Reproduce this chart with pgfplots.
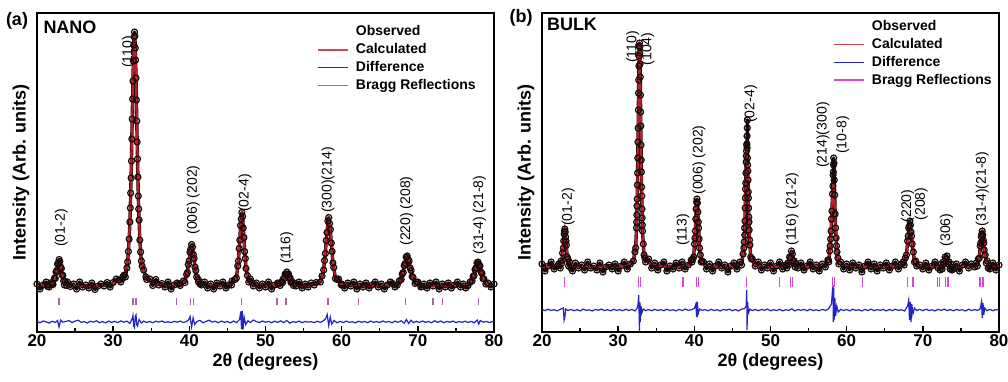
\documentclass[border=0pt]{standalone}
\usepackage{pgfplots}
\pgfplotsset{compat=1.18}
\usepackage{fontspec}
\setmainfont{Liberation Sans}
\definecolor{calcred}{RGB}{190,30,40}
\definecolor{diffblue}{RGB}{35,35,200}
\definecolor{braggA}{RGB}{165,100,170}
\definecolor{braggB}{RGB}{215,70,215}
\definecolor{obscol}{RGB}{25,10,10}
\tikzset{pk/.style={font=\fontsize{7}{8}\selectfont, rotate=90, anchor=center, inner sep=0pt}}
\pgfplotsset{
 xrd/.style={
  scale only axis, width=228.5pt, height=159.5pt,
  xmin=20, xmax=80, ymin=0, ymax=319,
  xtick={20,30,...,80}, minor xtick={25,35,...,75}, ytick=\empty,
  xtick pos=left, tick align=inside,
  major tick length=3pt, minor tick length=2pt,
  every tick/.style={black, line width=0.7pt},
  axis line style={line width=0.9pt},
  /pgf/number format/assume math mode=true,
  xticklabel style={font=\fontsize{8.5}{10}\selectfont\bfseries, inner sep=1pt},
  label style={font=\fontsize{9}{11}\selectfont\bfseries},
  xlabel={2θ (degrees)},
  ylabel={Intensity (Arb. units)},
  x label style={at={(axis description cs:0.5,-0.094)}, anchor=center},
  y label style={at={(axis description cs:-0.035,0.5)}, anchor=center},
  legend cell align=left,
  legend style={draw=none, fill=none, inner sep=0pt, outer sep=0pt, row sep=0.5pt,
    font=\fontsize{7}{8}\selectfont\bfseries,
    nodes={inner sep=0.6pt, text height=5.6pt, text depth=1.6pt},
    /tikz/every odd column/.append style={column sep=3pt}},
 },
 obs/.style={obscol, line width=1.7pt, line join=round, mark=o, mark size=1.5pt, mark options={draw=obscol, line width=0.6pt}, legend image code/.code={}},
 calc/.style={calcred, line width=1.1pt, no marks, legend image code/.code={\draw[calcred!80!white, line width=0.8pt] (0pt,0pt) -- (15pt,0pt);}},
 diff/.style={diffblue, line width=0.6pt, no marks, legend image code/.code={\draw[diffblue, line width=0.8pt] (0pt,0pt) -- (15pt,0pt);}},
}
\begin{document}
\begin{tikzpicture}
\useasboundingbox (0,0) rectangle (504pt,190.5pt);
% ---------------- (a) NANO ----------------
\begin{axis}[xrd, at={(18.5pt,24.5pt)}, anchor=south west,
  legend style={at={(axis description cs:0.613,0.967)}, anchor=north west}]
\addplot[obs] coordinates {
(20.0,48) (20.4,43) (20.8,47) (21.2,50) (21.4,45.5) (21.6,45) (21.9,49.5) (22.0,48.5) (22.1,47.5) (22.3,54) (22.4,53.5) (22.5,60) (22.6,61.5) (22.7,68) (22.8,69) (22.9,72.5) (23.0,70.5) (23.1,65) (23.2,63.5) (23.3,57) (23.4,56.5) (23.5,51) (23.6,47) (23.7,50.5) (23.9,46.5) (24.0,50) (24.4,45.5) (24.8,48) (25.2,43) (25.6,50) (26.0,45) (26.4,47) (26.8,44) (27.2,49) (27.6,42.5) (28.0,46) (28.4,48) (28.8,46) (29.2,49.5) (29.6,45) (30.0,49.5) (30.4,53) (30.8,52) (31.0,50) (31.2,53.5) (31.3,55.5) (31.45,57) (31.6,55) (31.8,64) (31.9,70) (32.0,80.5) (32.1,93) (32.2,110) (32.25,124) (32.3,139) (32.35,154) (32.4,171) (32.45,193) (32.5,213) (32.55,233) (32.6,251) (32.65,271) (32.7,287) (32.75,295) (32.8,300) (32.85,296) (32.9,284) (32.95,272) (33.0,254) (33.05,232) (33.1,211) (33.15,190) (33.2,173) (33.25,155) (33.3,136) (33.35,123) (33.4,112) (33.5,92) (33.6,80) (33.7,71) (33.8,66) (34.0,62) (34.3,55) (34.4,52.5) (34.8,53) (35.2,46.5) (35.6,52.5) (36.0,47) (36.4,48.5) (36.8,45) (37.2,50) (37.6,43) (38.0,47) (38.4,49) (38.65,48) (38.8,46.5) (39.2,51) (39.42,49.5) (39.64,57.5) (39.75,59.5) (39.86,67.5) (39.97,71) (40.08,80) (40.19,83) (40.3,87.5) (40.41,85) (40.52,77.5) (40.63,73.5) (40.74,65) (40.85,61.5) (40.96,55) (41.18,52.5) (41.2,50) (41.4,48) (41.6,47) (42.0,50) (42.4,44) (42.8,48) (43.2,43) (43.6,49) (44.0,46) (44.4,50) (44.8,44) (45.2,47) (45.55,47) (45.6,51) (46.0,52.5) (46.18,54) (46.36,66) (46.45,71) (46.54,83.5) (46.63,92) (46.72,106.5) (46.81,113) (46.9,119.5) (46.99,115.5) (47.08,104) (47.17,94.5) (47.26,80.5) (47.35,73.5) (47.44,63.5) (47.62,56.5) (47.8,50) (48.0,53) (48.25,49.5) (48.4,46) (48.8,49) (49.2,44) (49.6,48) (50.0,45) (50.4,50) (50.8,43) (51.2,47) (51.6,49) (51.7,48) (51.92,46.5) (52.14,50.5) (52.25,49.5) (52.36,53.5) (52.47,53.5) (52.58,58) (52.69,57.5) (52.8,60) (52.91,57.5) (53.02,58) (53.13,53.5) (53.24,54) (53.35,49.5) (53.46,50.5) (53.68,46.5) (53.9,48.5) (54.0,46) (54.4,50) (54.8,44) (55.2,48) (55.6,45) (56.0,49) (56.4,47) (56.65,49.5) (57.2,50) (57.42,56) (57.64,62) (57.75,71.5) (57.86,78.5) (57.97,91.5) (58.08,99.5) (58.19,111) (58.3,114.5) (58.41,108.5) (58.52,102.5) (58.63,89) (58.74,80.5) (58.85,69) (58.96,64.5) (59.18,53.5) (59.4,52.5) (59.6,53) (59.95,47) (60.0,48) (60.4,44) (60.8,49) (61.2,46) (61.6,50) (62.0,43) (62.4,48) (62.8,45) (63.2,49) (63.6,44) (64.0,47) (64.4,50) (64.8,45) (65.2,48) (65.6,43) (66.0,47) (66.4,50) (66.65,48.5) (67.0,45) (67.3,47) (67.56,51) (67.82,52.5) (67.95,58) (68.08,59.5) (68.21,66.5) (68.34,68.5) (68.47,75) (68.6,76) (68.73,72.5) (68.86,71) (68.99,64) (69.12,61.5) (69.25,55.5) (69.38,54.5) (69.64,48.5) (69.9,49.5) (70.0,50) (70.4,45) (70.55,45.5) (70.8,48) (71.2,44) (71.6,49) (72.0,46) (72.4,50) (72.8,43) (73.2,48) (73.6,45) (74.0,49) (74.4,44) (74.8,47) (75.2,50) (75.6,45) (75.95,48) (76.3,44) (76.6,46.5) (76.86,50) (77.12,51) (77.25,55.5) (77.38,56.5) (77.51,62.5) (77.64,64) (77.77,69) (77.9,70) (78.03,67) (78.16,66) (78.29,60) (78.42,58.5) (78.55,53.5) (78.68,53) (78.94,48) (79.2,49) (79.6,45) (80.0,48)
};
\addlegendentry{Observed}
\addplot[calc] coordinates {
(20,46) (21.4,46.8) (21.9,47.9) (22.1,49.3) (22.3,52.5) (22.4,55.1) (22.5,58.5) (22.6,62.5) (22.7,66.5) (22.8,69.8) (22.9,71) (23.0,69.8) (23.1,66.5) (23.2,62.5) (23.3,58.5) (23.4,55.1) (23.5,52.5) (23.7,49.3) (23.9,47.9) (24.4,46.8) (25.5,46.2) (28,46.3) (29.5,47.5) (30.8,50.8) (31.3,54.3) (31.8,65.1) (32.0,79) (32.2,111.3) (32.3,137.7) (32.4,172) (32.5,212.1) (32.6,252.9) (32.7,285.4) (32.8,298) (32.9,285.4) (33.0,252.9) (33.1,212.1) (33.2,172) (33.3,137.7) (33.4,111.3) (33.6,79) (33.8,65.1) (34.3,54.3) (34.8,50.8) (36,47.8) (37.5,46.8)
(38.65,47.3) (39.2,49) (39.42,51.2) (39.64,56.4) (39.75,60.6) (39.86,66) (39.97,72.4) (40.08,78.8) (40.19,84) (40.3,86) (40.41,84) (40.52,78.8) (40.63,72.4) (40.74,66) (40.85,60.6) (40.96,56.4) (41.18,51.2) (41.4,49) (41.95,47.3) (43.5,46.3)
(45.55,48.4) (46.0,51.4) (46.18,55.4) (46.36,64.6) (46.45,72.2) (46.54,82) (46.63,93.4) (46.72,105.1) (46.81,114.4) (46.9,118) (46.99,114.4) (47.08,105.1) (47.17,93.4) (47.26,82) (47.35,72.2) (47.44,64.6) (47.62,55.4) (47.8,51.4) (48.25,48.4) (49.5,46.5)
(51.15,46.4) (51.7,47.0) (51.92,47.7) (52.14,49.4) (52.25,50.7) (52.36,52.5) (52.47,54.6) (52.58,56.7) (52.69,58.4) (52.8,59) (52.91,58.4) (53.02,56.7) (53.13,54.6) (53.24,52.5) (53.35,50.7) (53.46,49.4) (53.68,47.7) (53.9,47.0) (54.45,46.4) (55.5,46.2)
(56.65,48.2) (57.2,51.1) (57.42,54.8) (57.64,63.4) (57.75,70.4) (57.86,79.5) (57.97,90.2) (58.08,101) (58.19,109.7) (58.3,113) (58.41,109.7) (58.52,101) (58.63,90.2) (58.74,79.5) (58.85,70.4) (58.96,63.4) (59.18,54.8) (59.4,51.1) (59.95,48.2) (61.5,46.6) (64,46.2)
(66.65,47) (67.3,48.2) (67.56,49.8) (67.82,53.5) (67.95,56.6) (68.08,60.5) (68.21,65.1) (68.34,69.8) (68.47,73.6) (68.6,75) (68.73,73.6) (68.86,69.8) (68.99,65.1) (69.12,60.5) (69.25,56.6) (69.38,53.5) (69.64,49.8) (69.9,48.2) (70.55,47) (72,46.4) (74,46.3)
(75.95,46.8) (76.6,47.7) (76.86,49) (77.12,52) (77.25,54.4) (77.38,57.5) (77.51,61.2) (77.64,64.9) (77.77,67.9) (77.9,69) (78.03,67.9) (78.16,64.9) (78.29,61.2) (78.42,57.5) (78.55,54.4) (78.68,52) (78.94,49) (79.2,47.7) (79.85,46.8) (80,46.7)
};
\addlegendentry{Calculated}
\addplot[diff] coordinates {
(20.0,10.5) (20.4,9.2) (20.8,11.0) (21.2,10.1) (21.6,8.9) (22.0,10.8) (22.4,9.5) (22.7,11.5) (22.9,5.0) (23.1,12.0) (23.4,9.8) (23.8,10.6) (24.2,11.4) (24.6,9.4) (25.0,10.9) (25.4,11.8) (25.8,9.7) (26.2,10.4) (26.6,9.0) (27.0,10.8) (27.4,9.9) (27.8,11.2) (28.2,9.3) (28.6,10.5) (29.0,9.1) (29.4,10.9) (29.8,9.6) (30.2,10.7) (30.6,9.4) (31.0,11.1) (31.4,9.8) (31.8,10.9) (32.2,8.6) (32.5,13.5) (32.6,16.5) (32.7,6.0) (32.8,4.5) (32.9,15.5) (33.0,17.0) (33.1,7.5) (33.2,6.0) (33.4,12.5) (33.7,9.0) (34.0,10.9) (34.4,9.5) (34.8,10.6) (35.2,9.2) (35.6,10.8) (36.0,9.9) (36.4,11.0) (36.8,9.6) (37.2,10.2) (37.6,9.4) (38.0,10.7) (38.4,9.8) (38.8,10.9) (39.2,9.5) (39.6,10.4) (39.9,12.0) (40.1,15.5) (40.3,5.0) (40.5,14.0) (40.7,7.5) (41.0,10.5) (41.4,11.6) (41.8,9.2) (42.2,10.6) (42.6,11.8) (43.0,9.9) (43.4,10.7) (43.8,9.3) (44.2,10.9) (44.6,9.8) (45.0,10.5) (45.4,9.1) (45.8,11.0) (46.2,9.4) (46.6,12.5) (46.75,20.5) (46.85,3.0) (46.95,21.0) (47.05,2.5) (47.2,14.5) (47.4,7.5) (47.7,11.2) (48.0,9.5) (48.4,12.0) (48.8,10.5) (49.2,9.4) (49.6,11.0) (50.0,9.8) (50.4,10.6) (50.8,9.3) (51.2,10.8) (51.6,9.6) (52.0,11.1) (52.4,9.4) (52.8,11.5) (53.2,8.9) (53.6,10.4) (54.0,9.7) (54.4,10.9) (54.8,9.3) (55.2,10.6) (55.6,9.9) (56.0,10.3) (56.4,9.4) (56.8,10.8) (57.2,9.6) (57.6,11.2) (57.9,13.5) (58.1,17.5) (58.3,6.5) (58.5,15.0) (58.7,8.0) (59.0,11.5) (59.4,9.2) (59.8,10.6) (60.2,9.4) (60.6,10.9) (61.0,9.7) (61.4,10.3) (61.8,9.1) (62.2,10.8) (62.6,9.8) (63.0,10.5) (63.4,9.3) (63.8,10.9) (64.2,9.6) (64.6,10.4) (65.0,9.5) (65.4,11.0) (65.8,9.8) (66.2,10.6) (66.6,9.2) (67.0,10.9) (67.4,9.7) (67.8,11.2) (68.2,8.8) (68.5,12.5) (68.8,8.5) (69.1,11.8) (69.4,9.4) (69.8,10.7) (70.2,9.5) (70.6,11.0) (71.0,9.7) (71.4,10.5) (71.8,9.2) (72.2,11.2) (72.6,9.6) (73.0,11.0) (73.4,9.3) (73.8,10.6) (74.2,9.8) (74.6,10.9) (75.0,9.4) (75.4,10.5) (75.8,9.7) (76.2,10.8) (76.6,9.5) (77.0,10.6) (77.4,9.2) (77.8,12.0) (78.0,8.0) (78.2,11.5) (78.6,9.8) (79.0,10.6) (79.4,9.4) (79.8,10.5) (80.0,10.0)
};
\addlegendentry{Difference}
\addplot[only marks, mark=|, mark size=1.75pt, braggA, mark options={line width=0.6pt},
  legend image code/.code={\draw[braggA, line width=0.8pt] (0pt,0pt) -- (15pt,0pt);}] coordinates {
(22.9,30.5) (32.6,30.5) (33.0,30.5) (38.3,30.5) (40.2,30.5) (40.5,30.5) (46.9,30.5) (51.5,30.5) (52.7,30.5) (58.2,30.5) (62.2,30.5) (68.4,30.5) (72.0,30.5) (73.2,30.5) (78.0,30.5)
};
\addlegendentry{Bragg Reflections}
\node[pk] at (axis cs:23.2,104) {(01-2)};
\node[pk] at (axis cs:32.0,280) {(110)};
\node[pk] at (axis cs:40.5,132) {(006) (202)};
\node[pk] at (axis cs:47.3,139) {(02-4)};
\node[pk] at (axis cs:52.8,84) {(116)};
\node[pk] at (axis cs:58.2,152) {(300)(214)};
\node[pk] at (axis cs:68.5,121) {(220) (208)};
\node[pk] at (axis cs:78.1,117) {(31-4) (21-8)};
\end{axis}
% ---------------- (b) BULK ----------------
\begin{axis}[xrd, at={(271pt,24.5pt)}, anchor=south west,
  legend style={at={(axis description cs:0.637,0.983)}, anchor=north west}]
\addplot[obs] coordinates {
(20.0,68) (20.4,61) (20.8,66) (21.2,70) (21.6,63) (22.0,66) (22.2,68) (22.4,64) (22.5,71) (22.6,69) (22.7,79) (22.8,84) (22.85,91) (22.9,98) (22.95,101) (23.0,103) (23.05,100) (23.1,95) (23.15,91) (23.2,87) (23.3,75) (23.4,73) (23.5,66) (23.6,70) (23.8,64) (24.0,61) (24.4,69) (24.8,64) (25.2,67) (25.6,62) (26.0,70) (26.4,64) (26.8,66) (27.2,62) (27.6,69) (28.0,60) (28.4,65) (28.8,67) (29.2,63) (29.6,68) (30.0,61) (30.4,66) (30.8,70) (31.2,63) (31.6,68) (32.0,71) (32.2,80) (32.3,84) (32.4,104) (32.425,110) (32.45,117) (32.475,126) (32.5,133) (32.525,147) (32.55,159) (32.575,174) (32.6,190) (32.625,204) (32.65,222) (32.675,239) (32.7,252) (32.725,266) (32.75,276) (32.775,286) (32.8,289) (32.825,285) (32.85,279) (32.875,268) (32.9,255) (32.925,237) (32.95,220) (32.975,206) (33.0,187) (33.025,172) (33.05,160) (33.075,145) (33.1,136) (33.125,123) (33.15,114) (33.175,107) (33.2,101) (33.3,88) (33.4,77) (33.5,74) (33.6,70) (34.0,73) (34.4,64) (34.8,69) (35.2,62) (35.6,67) (36.0,70) (36.4,61) (36.8,66) (37.2,63) (37.6,69) (38.0,64) (38.4,70) (38.8,63) (39.2,67) (39.6,72) (39.69,70) (39.8,73) (39.91,75) (40.02,88) (40.08,94) (40.13,101) (40.19,113) (40.24,123) (40.3,130) (40.35,133) (40.4,129) (40.46,120) (40.52,110) (40.57,104) (40.63,93) (40.68,84) (40.79,77) (40.9,70) (41.01,71) (41.2,70) (41.6,63) (42.0,68) (42.4,61) (42.8,66) (43.2,70) (43.6,64) (44.0,67) (44.4,60) (44.8,66) (45.2,69) (45.6,63) (46.0,70) (46.2,67) (46.4,78) (46.5,84) (46.55,90) (46.6,104) (46.625,97) (46.65,111) (46.675,124) (46.7,134) (46.725,143) (46.75,149) (46.775,159) (46.8,170) (46.825,176) (46.85,181) (46.875,187) (46.9,188) (46.92,196) (46.925,184) (46.95,204) (46.97,212) (46.975,174) (47.0,167) (47.025,161) (47.05,152) (47.075,140) (47.1,134) (47.125,124) (47.15,115) (47.175,110) (47.2,102) (47.25,92) (47.3,87) (47.4,75) (47.5,73) (47.6,73) (48.0,66) (48.4,70) (48.8,62) (49.2,67) (49.6,64) (50.0,69) (50.4,61) (50.8,66) (51.2,70) (51.6,63) (52.0,67) (52.03,67) (52.15,64) (52.27,69) (52.39,67) (52.51,75) (52.63,74) (52.75,81) (52.87,78) (52.99,71) (53.11,71) (53.23,65) (53.35,68) (53.6,64) (54.0,69) (54.4,62) (54.8,66) (55.2,70) (55.6,63) (56.0,67) (56.4,61) (56.8,68) (57.2,65) (57.53,72) (57.6,72) (57.65,70) (57.77,81) (57.83,86) (57.89,93) (57.95,101) (58.01,113) (58.07,121) (58.13,138) (58.19,146) (58.22,157) (58.25,160) (58.28,167) (58.3,174) (58.33,169) (58.37,152) (58.43,137) (58.49,118) (58.55,104) (58.61,94) (58.67,86) (58.73,80) (58.85,74) (58.97,68) (59.2,70) (59.6,63) (60.0,68) (60.4,62) (60.8,69) (61.2,64) (61.6,67) (62.0,60) (62.4,66) (62.8,70) (63.2,63) (63.6,68) (64.0,61) (64.4,67) (64.8,64) (65.2,69) (65.6,62) (66.0,66) (66.4,70) (66.8,63) (67.2,68) (67.4,70) (67.55,67) (67.7,74) (67.85,77) (68.0,91) (68.08,96) (68.15,104) (68.22,106) (68.3,111) (68.38,107) (68.45,100) (68.52,96) (68.6,88) (68.75,80) (68.9,70) (69.05,71) (69.2,66) (69.6,67) (70.0,63) (70.4,69) (70.8,62) (71.2,66) (71.6,70) (72.0,64) (72.27,62) (72.4,68) (72.53,63) (72.66,70) (72.79,68) (72.92,75) (73.05,73) (73.18,76) (73.31,68) (73.44,70) (73.57,63) (73.7,68) (73.83,62) (74.0,63) (74.4,68) (74.8,61) (75.2,67) (75.6,70) (76.0,64) (76.4,68) (76.8,65) (77.02,69) (77.15,66) (77.28,73) (77.41,74) (77.54,86) (77.6,89) (77.67,95) (77.74,98) (77.8,101) (77.86,97) (77.93,92) (78.0,89) (78.06,82) (78.19,77) (78.32,69) (78.45,71) (78.58,64) (78.8,63) (79.2,69) (79.6,62) (80.0,67)
};
\addlegendentry{Observed}
\addplot[calc] coordinates {
(20,65) (21.5,65.4) (22.0,65.9) (22.2,66.3) (22.4,67.3) (22.5,68.5) (22.6,71.2) (22.7,76.6) (22.8,85.6) (22.9,96.4) (23.0,102) (23.1,96.4) (23.2,85.6) (23.3,76.6) (23.4,71.2) (23.5,68.5) (23.6,67.3) (23.8,66.3) (24.0,65.9) (24.5,65.4) (27,65) (30,65.3)
(31.3,67.4) (31.8,70.1) (32.0,72.8) (32.2,78.8) (32.3,86.1) (32.4,102.1) (32.5,134.5) (32.6,188.4) (32.7,253.3) (32.8,287) (32.9,253.3) (33.0,188.4) (33.1,134.5) (33.2,102.1) (33.3,86.1) (33.4,78.8) (33.6,72.8) (33.8,70.1) (34.3,67.4) (36,65.5) (38.0,65.2) (38.3,66) (38.5,68) (38.7,66) (38.9,65.3)
(39.25,66.5) (39.47,67.3) (39.69,69.2) (39.8,71.4) (39.91,76.2) (40.02,86) (40.13,102.3) (40.24,121.8) (40.35,132) (40.46,121.8) (40.57,102.3) (40.68,86) (40.79,76.2) (40.9,71.4) (41.01,69.2) (41.23,67.3) (41.45,66.5) (42.0,65.7) (44,65.2)
(45.4,66.3) (45.9,67.8) (46.1,69.3) (46.3,72.6) (46.4,76.6) (46.5,85.4) (46.6,103.2) (46.7,132.8) (46.8,168.5) (46.9,187) (47.0,168.5) (47.1,132.8) (47.2,103.2) (47.3,85.4) (47.4,76.6) (47.5,72.6) (47.7,69.3) (47.9,67.8) (48.4,66.3) (50,65.3)
(50.95,65.2) (51.55,65.3) (51.79,65.5) (52.03,65.9) (52.15,66.3) (52.27,67.3) (52.39,69.4) (52.51,72.8) (52.63,76.9) (52.75,79) (52.87,76.9) (52.99,72.8) (53.11,69.4) (53.23,67.3) (53.35,66.3) (53.47,65.9) (53.71,65.5) (53.95,65.3) (54.55,65.2)
(56.45,65.9) (57.05,67) (57.29,68) (57.53,70.3) (57.65,73.1) (57.77,79.2) (57.89,91.6) (58.01,112.3) (58.13,137.1) (58.25,150) (58.37,137.1) (58.49,112.3) (58.61,91.6) (58.73,79.2) (58.85,73.1) (58.97,70.3) (59.21,68) (59.45,67) (60.05,65.9) (62,65.2) (64,65.1)
(66.05,65.5) (66.8,66) (67.1,66.5) (67.4,67.7) (67.55,69.2) (67.7,72.3) (67.85,78.8) (68.0,89.5) (68.15,102.3) (68.3,109) (68.45,102.3) (68.6,89.5) (68.75,78.8) (68.9,72.3) (69.05,69.2) (69.2,67.7) (69.5,66.5) (69.8,66) (70.55,65.5)
(71.1,65.1) (71.75,65.2) (72.01,65.3) (72.27,65.6) (72.4,65.9) (72.53,66.5) (72.66,67.8) (72.79,70) (72.92,72.6) (73.05,74) (73.18,72.6) (73.31,70) (73.44,67.8) (73.57,66.5) (73.7,65.9) (73.83,65.6) (74.09,65.3) (74.35,65.2) (75.0,65.1)
(75.85,65.4) (76.5,65.8) (76.76,66.2) (77.02,67.1) (77.15,68.2) (77.28,70.7) (77.41,75.6) (77.54,83.9) (77.67,93.8) (77.8,99) (77.93,93.8) (78.06,83.9) (78.19,75.6) (78.32,70.7) (78.45,68.2) (78.58,67.1) (78.84,66.2) (79.1,65.8) (79.75,65.4) (80,65.3)
};
\addlegendentry{Calculated}
\addplot[diff] coordinates {
(20.0,22.5) (20.4,21.4) (20.8,22.8) (21.2,21.6) (21.6,22.3) (22.0,21.2) (22.4,22.7) (22.7,23.5) (22.8,24) (22.9,12) (23.0,15) (23.1,23) (23.4,21.5) (23.8,22.6) (24.2,21.3) (24.6,22.4) (25.0,21.1) (25.4,22.9) (25.8,21.7) (26.2,22.2) (26.6,21.0) (27.0,22.6) (27.4,21.8) (27.8,22.9) (28.2,21.4) (28.6,22.3) (29.0,21.2) (29.4,22.7) (29.8,21.6) (30.2,22.4) (30.6,21.3) (31.0,22.8) (31.4,21.5) (31.8,22.6) (32.2,21.0) (32.5,24) (32.6,27) (32.7,37) (32.75,18) (32.8,0) (32.85,30) (32.9,10) (33.0,26) (33.1,19) (33.3,23) (33.6,21.4) (34.0,22.5) (34.4,21.2) (34.8,22.7) (35.2,21.6) (35.6,22.4) (36.0,21.3) (36.4,22.8) (36.8,21.5) (37.2,22.3) (37.6,21.1) (38.0,22.6) (38.4,21.4) (38.8,22.9) (39.2,21.7) (39.6,22.2) (40.0,23.5) (40.2,28) (40.3,15) (40.4,30) (40.5,18) (40.7,23) (41.0,21.6) (41.4,22.4) (41.8,21.2) (42.2,22.7) (42.6,21.5) (43.0,22.3) (43.4,21.0) (43.8,22.6) (44.2,21.8) (44.6,22.9) (45.0,21.3) (45.4,22.4) (45.8,21.1) (46.2,22.8) (46.6,23.5) (46.8,26) (46.88,42) (46.92,2) (47.0,30) (47.1,19) (47.3,23) (47.6,21.4) (48.0,22.6) (48.4,21.3) (48.8,22.5) (49.2,21.7) (49.6,22.9) (50.0,21.2) (50.4,22.4) (50.8,21.5) (51.2,22.7) (51.6,21.1) (52.0,22.3) (52.4,21.6) (52.8,23.2) (53.2,21.0) (53.6,22.5) (54.0,21.7) (54.4,22.6) (54.8,21.3) (55.2,22.8) (55.6,21.5) (56.0,22.2) (56.4,21.2) (56.8,22.7) (57.2,21.6) (57.6,22.9) (58.0,28) (58.1,38) (58.2,47) (58.25,10) (58.3,44) (58.35,12) (58.45,34) (58.55,16) (58.7,26) (58.9,20) (59.2,22.6) (59.6,21.4) (60.0,22.5) (60.4,21.2) (60.8,22.8) (61.2,21.6) (61.6,22.3) (62.0,21.0) (62.4,22.6) (62.8,21.5) (63.2,22.9) (63.6,21.3) (64.0,22.4) (64.4,21.7) (64.8,22.7) (65.2,21.1) (65.6,22.5) (66.0,21.4) (66.4,22.8) (66.8,21.6) (67.2,22.3) (67.6,21.0) (68.0,26) (68.15,32) (68.25,12) (68.35,30) (68.45,10) (68.55,28) (68.7,18) (68.9,24) (69.2,21.5) (69.6,22.6) (70.0,21.3) (70.4,22.8) (70.8,21.5) (71.2,22.2) (71.6,21.1) (72.0,22.7) (72.4,21.6) (72.8,22.9) (73.2,21.4) (73.6,22.5) (74.0,21.2) (74.4,22.6) (74.8,21.7) (75.2,22.3) (75.6,21.0) (76.0,22.8) (76.4,21.5) (76.8,22.4) (77.2,21.6) (77.5,23) (77.6,26) (77.7,30) (77.8,14) (77.9,29) (78.0,17) (78.1,24) (78.4,21.4) (78.8,22.6) (79.2,21.3) (79.6,22.5) (80.0,21.8)
};
\addlegendentry{Difference}
\addplot[only marks, mark=|, mark size=2.5pt, braggB, mark options={line width=0.6pt},
  legend image code/.code={\draw[braggB, line width=0.8pt] (0pt,0pt) -- (15pt,0pt);}] coordinates {
(23.0,50) (32.7,50) (32.9,50) (38.5,50) (40.3,50) (40.5,50) (46.9,50) (51.2,50) (52.6,50) (52.9,50) (58.1,50) (58.4,50) (62.1,50) (68.0,50) (68.7,50) (71.9,50) (72.2,50) (73.0,50) (73.3,50) (77.5,50) (77.9,50)
};
\addlegendentry{Bragg Reflections}
\node[pk] at (axis cs:23.45,125) {(01-2)};
\node[pk] at (axis cs:31.9,285) {(110)};
\node[pk] at (axis cs:33.9,283) {(104)};
\node[pk] at (axis cs:38.5,102) {(113)};
\node[pk] at (axis cs:40.6,172) {(006) (202)};
\node[pk] at (axis cs:47.4,228) {(02-4)};
\node[pk] at (axis cs:52.85,123) {(116) (21-2)};
\node[pk] at (axis cs:56.9,197) {(214)(300)};
\node[pk] at (axis cs:59.5,197) {(10-8)};
\node[pk] at (axis cs:68.0,126) {(220)};
\node[pk] at (axis cs:69.8,128) {(208)};
\node[pk] at (axis cs:73.1,102) {(306)};
\node[pk] at (axis cs:77.8,143) {(31-4)(21-8)};
\end{axis}
\node[font=\fontsize{9}{10}\selectfont\bfseries] at (8.5pt,180pt) {(a)};
\node[font=\fontsize{9}{10}\selectfont\bfseries] at (35pt,177pt) {NANO};
\node[font=\fontsize{9}{10}\selectfont\bfseries] at (260.5pt,181.5pt) {(b)};
\node[font=\fontsize{9}{10}\selectfont\bfseries] at (286pt,178.5pt) {BULK};
\end{tikzpicture}
\end{document}
